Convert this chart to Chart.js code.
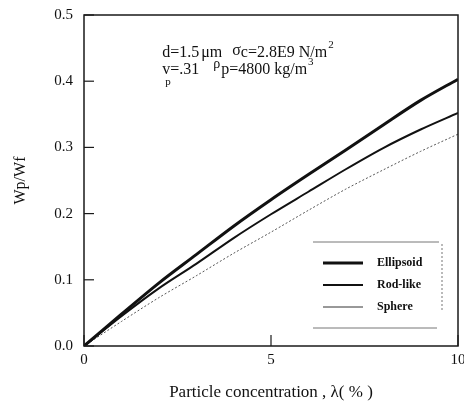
<!DOCTYPE html>
<html>
<head>
<meta charset="utf-8">
<script src="https://cdn.jsdelivr.net/npm/chart.js@4"></script>
<style>
  html, body { margin: 0; padding: 0; background: #fff; }
  #wrap { width: 464px; height: 409px; position: relative; }
</style>
</head>
<body>
<div id="wrap"><canvas id="c" width="464" height="409"></canvas></div>
<script>
// ---- data ----
const concentration = [0, 1, 2, 3, 4, 5, 6, 7, 8, 9, 10];
const ellipsoid = [0, 0.048, 0.095, 0.138, 0.181, 0.221, 0.259, 0.296, 0.334, 0.371, 0.403];
const rodLike   = [0, 0.045, 0.087, 0.124, 0.163, 0.199, 0.233, 0.267, 0.299, 0.327, 0.352];
const sphere    = [0, 0.037, 0.073, 0.106, 0.140, 0.172, 0.205, 0.237, 0.266, 0.294, 0.320];
const seriesNames = ['Ellipsoid', 'Rod-like', 'Sphere'];
const xTicks = [0, 5, 10];
const yTicks = [0.0, 0.1, 0.2, 0.3, 0.4, 0.5];
const xTitle = 'Particle concentration , \u03bb( % )';
const yTitle = 'Wp/Wf';

const SERIF = '"Liberation Serif", "DejaVu Serif", serif';
const pts = arr => concentration.map((x, i) => ({ x: x, y: arr[i] }));

const frame = {
  id: 'frame',
  afterDatasetsDraw(chart) {
    const { ctx, chartArea: a, scales } = chart;
    ctx.save();
    ctx.strokeStyle = '#1a1a1a';
    ctx.lineWidth = 1.5;
    ctx.strokeRect(a.left, a.top, a.right - a.left, a.bottom - a.top);
    // inward ticks
    ctx.lineWidth = 1.2;
    yTicks.forEach(v => {
      const y = scales.y.getPixelForValue(v);
      ctx.beginPath(); ctx.moveTo(a.left, y); ctx.lineTo(a.left + 10, y); ctx.stroke();
    });
    xTicks.forEach(v => {
      const x = scales.x.getPixelForValue(v);
      ctx.beginPath(); ctx.moveTo(x, a.bottom); ctx.lineTo(x, a.bottom - 11); ctx.stroke();
    });
    ctx.restore();
  }
};

const annot = {
  id: 'annot',
  afterDraw(chart) {
    const { ctx, scales } = chart;
    const sx = scales.x, sy = scales.y;
    ctx.save();
    ctx.fillStyle = '#111';
    ctx.textBaseline = 'alphabetic';
    const big = '16px ' + SERIF, small = '11px ' + SERIF;
    const put = (t, x, y, f) => { ctx.font = f; ctx.fillText(t, x, y); return x + ctx.measureText(t).width; };
    // line 1
    let x = sx.getPixelForValue(2.09);
    let y = sy.getPixelForValue(0.437);
    x = put('d=1.5', x, y, big);
    x = put('\u03bcm', x + 2, y, big);
    x += 10;
    x = put('\u03c3', x, y - 2, big);
    x = put('c=2.8E9 N/m', x, y, big);
    put('2', x + 1, y - 9, small);
    // line 2
    x = sx.getPixelForValue(2.09);
    y = sy.getPixelForValue(0.411);
    let vx = put('v', x, y, big);
    put('p', x + 3, y + 11, small);
    x = put('=.31', vx, y, big);
    x += 14;
    x = put('\u03c1', x, y - 6, '14px ' + SERIF);
    x = put('p=4800 kg/m', x + 1, y, big);
    put('3', x + 1, y - 9, small);
    ctx.restore();
  }
};

const legendBox = {
  id: 'legendBox',
  afterDraw(chart) {
    const { ctx, chartArea: a } = chart;
    const L = a.right - 145, R = a.right - 21, T = a.bottom - 104, B = a.bottom - 18;
    ctx.save();
    ctx.strokeStyle = '#777';
    ctx.lineWidth = 1;
    ctx.beginPath(); ctx.moveTo(L, T); ctx.lineTo(R + 2, T); ctx.stroke();
    ctx.beginPath(); ctx.moveTo(L, B); ctx.lineTo(R, B); ctx.stroke();
    ctx.setLineDash([2, 2]);
    ctx.beginPath(); ctx.moveTo(R + 5, T + 2); ctx.lineTo(R + 5, B - 16); ctx.stroke();
    ctx.setLineDash([]);
    ctx.font = 'bold 12px ' + SERIF;
    ctx.textBaseline = 'middle';
    ctx.fillStyle = '#111';
    chart.data.datasets.forEach((ds, i) => {
      const yy = T + 21 + i * 22;
      ctx.strokeStyle = i === 2 ? '#333' : ds.borderColor;
      ctx.lineWidth = ds.borderWidth;
      ctx.beginPath(); ctx.moveTo(L + 10, yy); ctx.lineTo(L + 50, yy); ctx.stroke();
      ctx.fillText(ds.label, L + 64, yy);
    });
    ctx.restore();
  }
};

new Chart(document.getElementById('c'), {
  type: 'line',
  data: {
    datasets: [
      { label: seriesNames[0], data: pts(ellipsoid), borderColor: '#111', borderWidth: 3, pointRadius: 0, tension: 0.3 },
      { label: seriesNames[1], data: pts(rodLike), borderColor: '#111', borderWidth: 2, pointRadius: 0, tension: 0.3 },
      { label: seriesNames[2], data: pts(sphere), borderColor: '#555', borderWidth: 1, borderDash: [2, 2], pointRadius: 0, tension: 0.3 }
    ]
  },
  options: {
    responsive: false,
    animation: false,
    layout: { padding: { top: 15, right: 6, left: 0, bottom: 0 } },
    plugins: { legend: { display: false }, tooltip: { enabled: false } },
    scales: {
      x: {
        type: 'linear', min: 0, max: 10,
        afterBuildTicks: s => { s.ticks = xTicks.map(v => ({ value: v })); },
        afterFit: s => { s.height = 63; s.paddingLeft = 0; s.paddingRight = 0; },
        grid: { display: false, drawTicks: false },
        border: { display: false },
        ticks: { color: '#111', font: { family: SERIF, size: 15 }, padding: 5, maxRotation: 0 },
        title: { display: true, text: xTitle, color: '#111', font: { family: SERIF, size: 17 }, padding: { top: 0, bottom: 6 } }
      },
      y: {
        type: 'linear', min: 0, max: 0.5,
        afterBuildTicks: s => { s.ticks = yTicks.map(v => ({ value: v })); },
        afterFit: s => { s.width = 84; s.paddingTop = 0; s.paddingBottom = 0; },
        grid: { display: false, drawTicks: false },
        border: { display: false },
        ticks: { color: '#111', font: { family: SERIF, size: 15 }, padding: 11, callback: v => Number(v).toFixed(1) },
        title: { display: true, text: yTitle, color: '#111', font: { family: SERIF, size: 16 }, padding: { top: 11, bottom: 0 } }
      }
    }
  },
  plugins: [frame, annot, legendBox]
});
</script>
</body>
</html>
